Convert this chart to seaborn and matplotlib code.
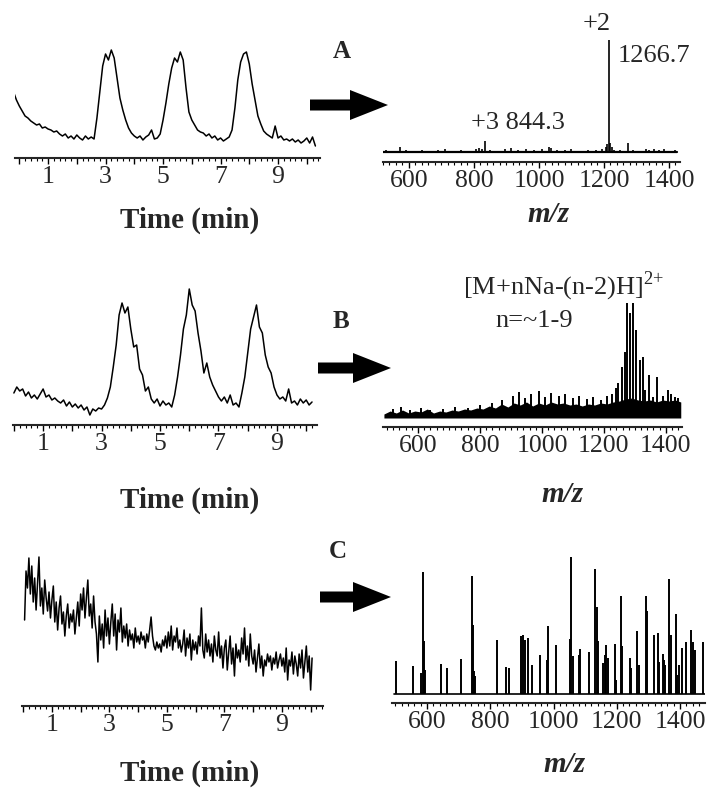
import numpy as np
import pandas as pd
import matplotlib
matplotlib.use("Agg")
import matplotlib.pyplot as plt
from matplotlib.ticker import FixedLocator, MultipleLocator
from matplotlib.patches import FancyArrow
import seaborn as sns

W, H = 711, 791

# ---------- chromatograms (time in min, intensity in arb. units) ----------
a_t0, a_dt = -0.2, 0.1
a_int = [66, 58, 52, 47, 42, 40, 37, 35, 33, 34,
         30, 31, 29, 28, 26, 27, 24, 22, 24, 20,
         22, 19, 23, 20, 18, 22, 19, 21, 19, 40,
         66, 92, 104, 98, 108, 100, 80, 60, 48, 38,
         30, 25, 22, 20, 22, 18, 21, 23, 28, 19,
         20, 24, 38, 55, 74, 90, 100, 96, 106, 98,
         70, 46, 38, 33, 28, 26, 25, 22, 24, 20,
         22, 18, 20, 17, 19, 21, 28, 50, 78, 96,
         104, 106, 94, 74, 58, 42, 34, 27, 24, 22,
         20, 32, 20, 22, 18, 19, 17, 19, 16, 18,
         15, 17, 20, 15, 21, 12]

b_t0, b_dt = 0.0, 0.1
b_int = [32, 38, 34, 36, 29, 33, 27, 30, 26, 31,
         36, 28, 30, 25, 27, 24, 22, 25, 19, 23,
         18, 21, 17, 20, 15, 18, 10, 16, 14, 17,
         16, 20, 27, 38, 58, 80, 110, 122, 112, 118,
         96, 78, 80, 56, 50, 34, 38, 26, 22, 26,
         19, 24, 20, 22, 18, 30, 48, 70, 96, 110,
         136, 120, 114, 92, 74, 52, 62, 48, 40, 34,
         28, 24, 28, 22, 30, 20, 22, 18, 32, 48,
         72, 96, 108, 120, 98, 92, 70, 58, 52, 38,
         30, 26, 28, 24, 36, 22, 24, 20, 26, 22,
         25, 20, 23]

c_t0, c_dt = 0.05, 0.05
c_int = [86, 135, 118, 148, 112, 140, 104, 128, 96, 122,
         149, 100, 118, 92, 126, 108, 95, 114, 88, 106,
         120, 84, 104, 76, 98, 110, 82, 94, 70, 90,
         102, 78, 92, 84, 96, 72, 88, 104, 80, 112,
         96, 118, 88, 108, 126, 90, 102, 78, 110, 84,
         72, 44, 90, 66, 82, 58, 96, 70, 88, 62,
         84, 102, 70, 92, 56, 86, 74, 98, 64, 80,
         68, 82, 60, 76, 66, 72, 58, 78, 64, 70,
         62, 74, 66, 70, 58, 72, 64, 76, 89, 70,
         60, 56, 64, 58, 62, 54, 66, 60, 70, 58,
         74, 60, 80, 56, 70, 64, 78, 58, 66, 54,
         62, 76, 50, 68, 58, 72, 46, 66, 56, 64,
         52, 70, 60, 98, 56, 48, 72, 54, 66, 50,
         62, 44, 70, 56, 50, 74, 48, 60, 38, 58,
         66, 36, 54, 70, 42, 58, 30, 62, 48, 56,
         44, 68, 52, 78, 46, 60, 40, 72, 50, 42,
         56, 34, 48, 62, 38, 50, 30, 46, 40, 52,
         44, 50, 36, 48, 42, 54, 38, 46, 52, 40,
         48, 34, 58, 26, 46, 40, 54, 32, 50, 42,
         30, 52, 38, 56, 28, 44, 60, 34, 50, 16,
         48]

# ---------- mass spectra (m/z, intensity) ----------
a_mz = [528, 545, 572, 590, 615, 640, 660, 690, 710, 735, 760, 790, 805, 815,
        826, 834, 850, 875, 895, 915, 935, 960, 985, 1010, 1030, 1038, 1055,
        1080, 1100, 1125, 1150, 1175, 1195, 1205, 1210, 1215, 1220, 1225, 1232,
        1250, 1274, 1290, 1310, 1330, 1340, 1355, 1370, 1385, 1400, 1420]
a_ms = [3, 2, 6, 3, 2, 3, 2, 3, 4, 2, 3, 2, 4, 5,
        4, 12, 3, 2, 4, 5, 3, 4, 3, 4, 6, 5, 3,
        3, 4, 2, 3, 3, 4, 6, 9, 113, 10, 6, 3,
        3, 10, 3, 2, 4, 3, 4, 3, 4, 2, 3]
a_range = [517, 1425]

b_band_mz = [490, 510, 530, 550, 570, 590, 610, 630, 650, 670, 690, 710, 730,
             750, 770, 790, 810, 830, 850, 870, 890, 910, 930, 950, 970, 990,
             1010, 1030, 1050, 1070, 1090, 1110, 1130, 1150, 1170, 1190, 1210,
             1230, 1250, 1270, 1290, 1310, 1330, 1350, 1370, 1390, 1410, 1430, 1448]
b_band = [4, 7, 5, 8, 5, 7, 6, 9, 5, 7, 6, 8, 7,
          9, 8, 10, 9, 12, 10, 14, 11, 15, 13, 16, 12, 15,
          13, 16, 14, 15, 13, 14, 12, 14, 13, 15, 14,
          16, 17, 19, 20, 18, 17, 18, 16, 18, 17, 18, 16]
b_mz = [520, 545, 575, 610, 640, 680, 720, 760, 800, 840, 870, 905, 925, 945,
        965, 990, 1010, 1030, 1055, 1075, 1100, 1120, 1145, 1165, 1190, 1210,
        1225, 1238, 1246, 1257, 1268, 1275, 1284, 1295, 1305, 1316, 1325, 1332,
        1346, 1359, 1372, 1391, 1407, 1418, 1429, 1440]
b_ms = [9, 11, 8, 10, 8, 9, 11, 10, 13, 15, 18, 22, 26, 20,
        24, 27, 21, 25, 22, 24, 20, 22, 19, 21, 18, 22,
        24, 30, 35, 51, 66, 115, 105, 115, 88, 58, 61, 28,
        43, 21, 41, 22, 28, 24, 21, 20]

c_mz = [502, 555, 580, 586, 589, 594, 644, 664, 706, 741, 744, 748, 752,
        822, 849, 860, 896, 902, 910, 920, 931, 957, 982, 980, 1007,
        1053, 1056, 1060, 1081, 1084, 1112, 1132, 1136, 1140, 1157, 1162,
        1167, 1172, 1194, 1198, 1212, 1216, 1242, 1246, 1265, 1270, 1292,
        1295, 1318, 1329, 1333, 1345, 1350, 1354, 1366, 1370, 1386, 1392,
        1398, 1407, 1420, 1434, 1442, 1448, 1474]
c_ms = [33, 28, 21, 122, 53, 24, 30, 26, 35, 118, 69, 23, 18,
        54, 27, 26, 58, 59, 54, 56, 29, 39, 68, 34, 49,
        55, 137, 38, 39, 45, 42, 125, 87, 53, 31, 39,
        49, 36, 50, 14, 98, 48, 36, 26, 63, 29, 98,
        83, 59, 61, 32, 40, 34, 29, 115, 59, 80, 19,
        29, 46, 52, 64, 52, 44, 52]
c_range = [495, 1478]

time_labels = ["", "1", "", "3", "", "5", "", "7", "", "9", ""]
mz_labels = ["600", "800", "1000", "1200", "1400"]

# ---------- style ----------
sns.set_style("white")
plt.rcParams["font.family"] = ["Liberation Serif", "DejaVu Serif"]
plt.rcParams["mathtext.fontset"] = "custom"
plt.rcParams["mathtext.rm"] = "Liberation Serif"

fig = plt.figure(figsize=(W / 100, H / 100), dpi=100)


def px_axes(left, right, axis_y, top_y):
    return fig.add_axes([left / W, 1 - axis_y / H, (right - left) / W,
                         (axis_y - top_y) / H])


def style(ax):
    for s in ["top", "left", "right"]:
        ax.spines[s].set_visible(False)
    ax.spines["bottom"].set_linewidth(1.5)
    ax.set_yticks([])
    ax.set_xlabel("")
    ax.set_ylabel("")
    ax.tick_params(axis="x", which="both", bottom=True, direction="out",
                   color="black")
    ax.tick_params(axis="x", which="major", length=4, width=1,
                   labelsize=18.5, pad=2)
    ax.tick_params(axis="x", which="minor", length=2.5, width=0.8)
    ax.patch.set_alpha(0)


def chrom(ax, t0, dt, vals, x0, x1, ytop):
    t = np.round(t0 + dt * np.arange(len(vals)), 3)
    df = pd.DataFrame({"t": t, "i": vals})
    sns.lineplot(data=df, x="t", y="i", ax=ax, color="black", lw=1.1,
                 estimator=None)
    ax.set_xlim(x0, x1)
    ax.set_ylim(0, ytop)
    ax.xaxis.set_major_locator(FixedLocator(range(11)))
    ax.set_xticklabels(time_labels)
    ax.xaxis.set_minor_locator(MultipleLocator(0.2))
    style(ax)


def spec_axis(ax, x0, x1, ylo, ytop):
    ax.set_xlim(x0, x1)
    ax.set_ylim(ylo, ytop)
    ax.xaxis.set_major_locator(FixedLocator([600, 800, 1000, 1200, 1400]))
    ax.set_xticklabels(mz_labels)
    ax.xaxis.set_minor_locator(MultipleLocator(20))
    style(ax)


# A
axA = px_axes(15, 320, 158, 40)
chrom(axA, a_t0, a_dt, a_int, -0.15, 10.46, 118)

axAs = px_axes(383, 680, 162, 30)
sns.lineplot(x=a_range, y=[1.2, 1.2], ax=axAs, color="black", lw=1.6)
axAs.vlines(a_mz, 0, a_ms, color="black", lw=1.2)
spec_axis(axAs, 520, 1434, -9, 123)

# B
axB = px_axes(13, 317, 425, 270)
chrom(axB, b_t0, b_dt, b_int, -0.03, 10.37, 155)

axBs = px_axes(383, 682, 427, 290)
axBs.fill_between(b_band_mz, 0, b_band, color="black", lw=0)
axBs.vlines(b_mz, 0, b_ms, color="black", lw=1.4)
spec_axis(axBs, 487, 1452, -9, 128)

# C
axC = px_axes(22, 323, 706, 540)
chrom(axC, c_t0, c_dt, c_int, -0.04, 10.43, 166)

axCs = px_axes(392, 705, 703, 545)
sns.lineplot(x=c_range, y=[0, 0], ax=axCs, color="black", lw=1.2)
axCs.vlines(c_mz, 0, c_ms, color="black", lw=1.4)
spec_axis(axCs, 489, 1479, -9, 149)

# ---------- overlay: letters, arrows, labels ----------
ov = fig.add_axes([0, 0, 1, 1])
ov.set_xlim(0, W)
ov.set_ylim(H, 0)
ov.axis("off")
ov.patch.set_alpha(0)

for letter, x, y in [("A", 342, 52), ("B", 341, 322), ("C", 338, 552)]:
    ov.text(x, y, letter, fontsize=18, fontweight="bold", ha="center",
            va="center")

for x0, x1, y in [(310, 388, 105), (318, 391, 368), (320, 391, 597)]:
    ov.add_patch(FancyArrow(x0, y, x1 - x0, 0, width=11, head_width=30,
                            head_length=38, length_includes_head=True,
                            color="black", lw=0))

for y in [220, 500, 773]:
    ov.text(190, y, "Time (min)", fontsize=21, fontweight="bold",
            ha="center", va="center")
for x, y in [(548, 214), (562, 494), (564, 765)]:
    ov.text(x, y, "m/z", fontsize=21, fontweight="bold", style="italic",
            ha="center", va="center")

ov.text(597, 24, "+2", fontsize=19, ha="center", va="center")
ov.text(618, 56, "1266.7", fontsize=19, ha="left", va="center")
ov.text(518, 123, "+3 844.3", fontsize=19, ha="center", va="center")
ov.text(564, 286, r"[M+nNa-(n-2)H]$^{\mathrm{2{+}}}$", fontsize=19,
        ha="center", va="center")
ov.text(534, 321, "n=~1-9", fontsize=19, ha="center", va="center")

fig.savefig("out.png", dpi=100)
